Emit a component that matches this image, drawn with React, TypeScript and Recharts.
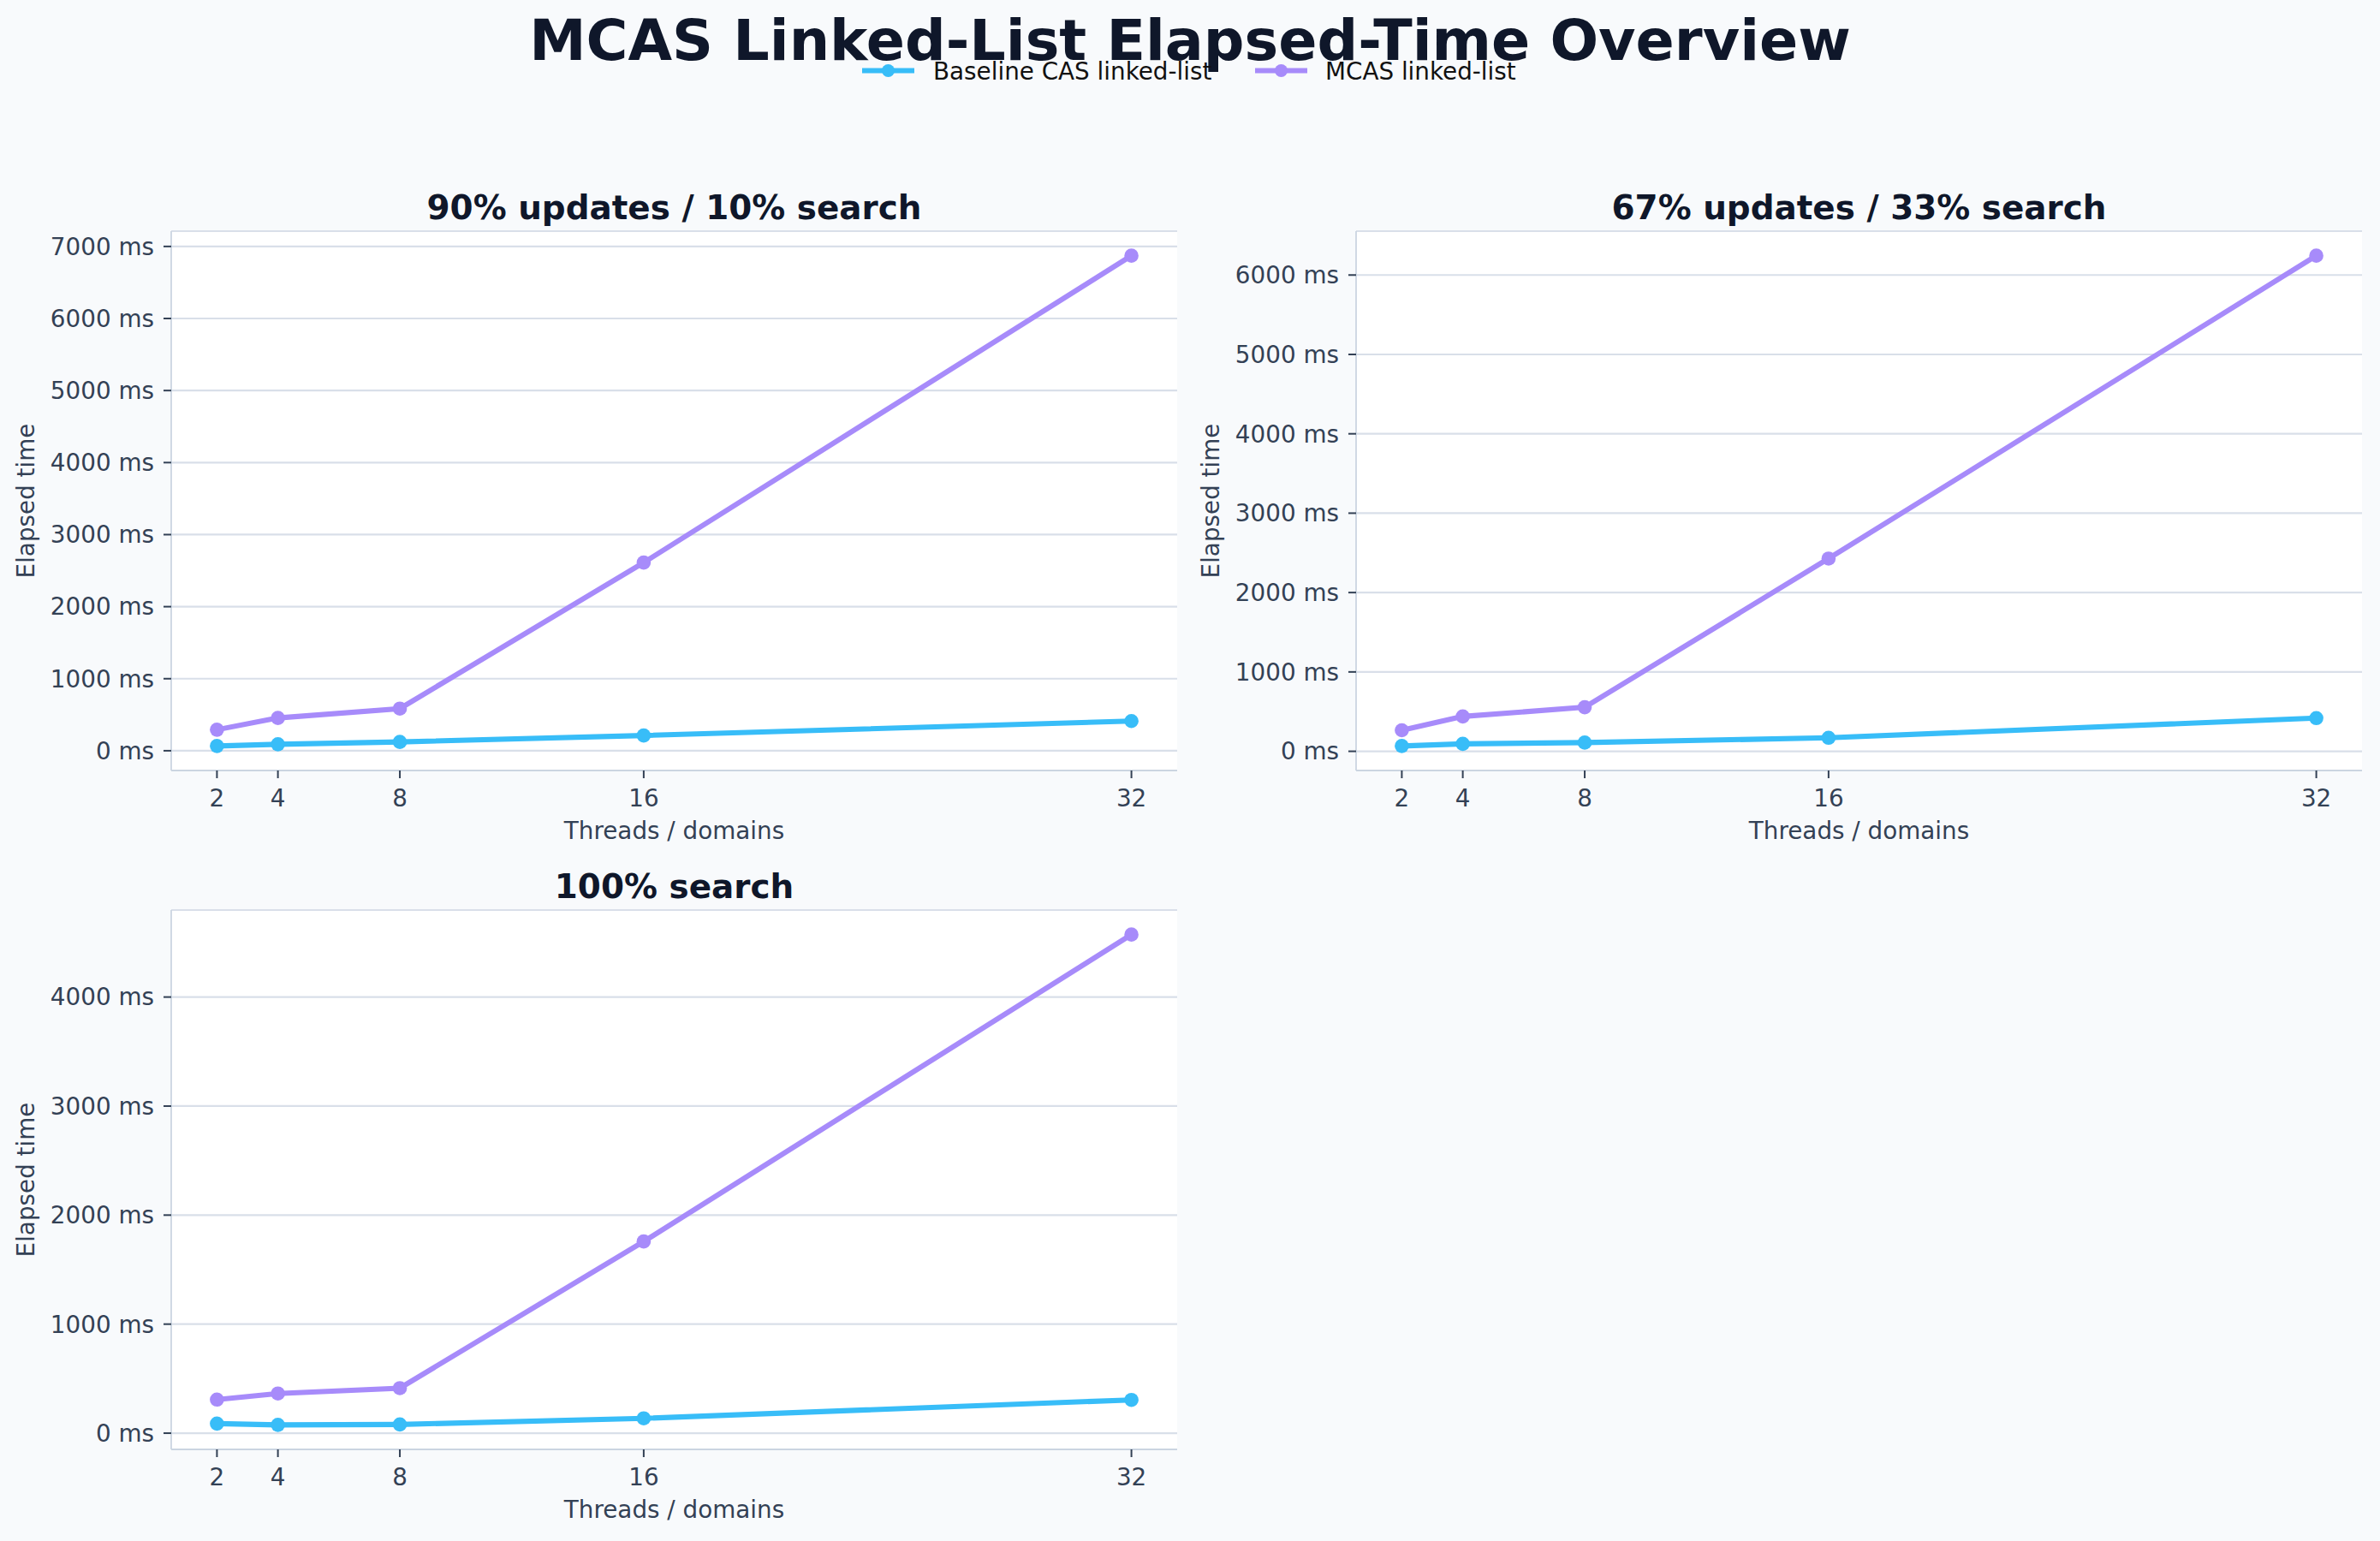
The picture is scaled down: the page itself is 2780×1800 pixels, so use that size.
import React from 'react';
import { LineChart, Line, XAxis, YAxis, CartesianGrid } from 'recharts';

const threads = [2, 4, 8, 16, 32];
const xTicks = [2, 4, 8, 16, 32];
const seriesNames = ['Baseline CAS linked-list', 'MCAS linked-list'];
const panelTitles = ['90% updates / 10% search', '67% updates / 33% search', '100% search'];

const baseline90 = [66, 90, 122, 212, 412];
const mcas90 = [292, 455, 585, 2612, 6872];
const baseline67 = [67, 94, 110, 170, 418];
const mcas67 = [265, 439, 555, 2428, 6244];
const baseline100 = [88, 76, 80, 136, 305];
const mcas100 = [308, 364, 413, 1758, 4573];

const yTicks90 = [0, 1000, 2000, 3000, 4000, 5000, 6000, 7000];
const yTicks67 = [0, 1000, 2000, 3000, 4000, 5000, 6000];
const yTicks100 = [0, 1000, 2000, 3000, 4000];

const FONT = 'DejaVu Sans';
const C_BASE = '#38bdf8';
const C_MCAS = '#a78bfa';
const C_TITLE = '#0f172a';
const C_TEXT = '#334155';
const C_SPINE = '#cbd5e1';
const C_GRID = '#d9dfe9';

const CH_W = 1400;
const CH_H = 820;
const M_TOP = 70;
const Y_W = 200;
const X_H = 120;
const PLOT_W = 1175;
const DOT_R = 8.3;

type PanelProps = {
  left: number;
  top: number;
  base: number[];
  mcas: number[];
  yTicks: number[];
};

const makeDot = (color: string) => (props: any) => {
  const { cx, cy, index } = props;
  if (cx == null || cy == null) return <g key={`d-${index}`} />;
  return <circle key={`d-${color}-${index}`} cx={cx} cy={cy} r={DOT_R} fill={color} stroke="none" />;
};

function Panel({ left, top, base, mcas, yTicks }: PanelProps) {
  const data = threads.map((t, i) => ({ threads: t, base: base[i], mcas: mcas[i] }));
  const all = [...base, ...mcas];
  const lo = Math.min(...all);
  const hi = Math.max(...all);
  const pad = (hi - lo) * 0.05;
  const rightMargin = CH_W - Y_W - PLOT_W;
  return (
    <div style={{ position: 'absolute', left, top, width: CH_W, height: CH_H }}>
      <LineChart
        width={CH_W}
        height={CH_H}
        data={data}
        margin={{ top: M_TOP, right: rightMargin, bottom: 0, left: 0 }}
      >
        <CartesianGrid vertical={false} stroke={C_GRID} strokeWidth={2.2} fill="#ffffff" fillOpacity={1} />
        <XAxis
          dataKey="threads"
          type="number"
          domain={[0.5, 33.5]}
          allowDataOverflow
          ticks={xTicks}
          interval={0}
          height={X_H}
          axisLine={{ stroke: C_SPINE, strokeWidth: 1.8 }}
          tickLine={{ stroke: C_TEXT, strokeWidth: 2 }}
          tickSize={9}
          tickMargin={13}
          tick={{ fill: C_TEXT, fontSize: 27.8, fontFamily: FONT }}
        />
        <YAxis
          type="number"
          domain={[lo - pad, hi + pad]}
          allowDataOverflow
          ticks={yTicks}
          interval={0}
          width={Y_W}
          axisLine={{ stroke: C_SPINE, strokeWidth: 1.8 }}
          tickLine={{ stroke: C_TEXT, strokeWidth: 2 }}
          tickSize={9}
          tickMargin={11}
          tickFormatter={(v: number) => `${v} ms`}
          tick={{ fill: C_TEXT, fontSize: 27.8, fontFamily: FONT }}
        />
        <Line
          type="linear"
          dataKey="base"
          name={seriesNames[0]}
          stroke={C_BASE}
          strokeWidth={6.1}
          dot={makeDot(C_BASE)}
          activeDot={false}
          isAnimationActive={false}
        />
        <Line
          type="linear"
          dataKey="mcas"
          name={seriesNames[1]}
          stroke={C_MCAS}
          strokeWidth={6.1}
          dot={makeDot(C_MCAS)}
          activeDot={false}
          isAnimationActive={false}
        />
      </LineChart>
    </div>
  );
}

const panels = [
  { left: 0, top: 200, base: baseline90, mcas: mcas90, yTicks: yTicks90, title: panelTitles[0] },
  { left: 1384, top: 200, base: baseline67, mcas: mcas67, yTicks: yTicks67, title: panelTitles[1] },
  { left: 0, top: 993, base: baseline100, mcas: mcas100, yTicks: yTicks100, title: panelTitles[2] },
];

export default function App() {
  return (
    <div
      style={{
        position: 'absolute',
        left: 0,
        top: 0,
        width: 2780,
        height: 1800,
        background: '#f8fafc',
        overflow: 'hidden',
        fontFamily: FONT,
      }}
    >
      {panels.map((p, i) => (
        <Panel key={i} left={p.left} top={p.top} base={p.base} mcas={p.mcas} yTicks={p.yTicks} />
      ))}
      <svg
        width={2780}
        height={1800}
        style={{ position: 'absolute', left: 0, top: 0, pointerEvents: 'none' }}
      >
        <text x={1390} y={70} textAnchor="middle" fontFamily={FONT} fontWeight="bold" fontSize={66.7} fill={C_TITLE}>
          MCAS Linked-List Elapsed-Time Overview
        </text>
        <g>
          <line x1={1007} y1={82.5} x2={1068} y2={82.5} stroke={C_BASE} strokeWidth={6.1} />
          <circle cx={1037.5} cy={82.5} r={7.6} fill={C_BASE} />
          <text x={1090} y={93} fontFamily={FONT} fontSize={27.8} fill="#111111">
            {seriesNames[0]}
          </text>
          <line x1={1466} y1={82.5} x2={1527} y2={82.5} stroke={C_MCAS} strokeWidth={6.1} />
          <circle cx={1496.5} cy={82.5} r={7.6} fill={C_MCAS} />
          <text x={1548} y={93} fontFamily={FONT} fontSize={27.8} fill="#111111">
            {seriesNames[1]}
          </text>
        </g>
        {panels.map((p, i) => {
          const plotLeft = p.left + Y_W;
          const plotTop = p.top + M_TOP;
          const plotH = CH_H - M_TOP - X_H;
          const cx = plotLeft + PLOT_W / 2;
          const cy = plotTop + plotH / 2;
          return (
            <g key={i}>
              <text x={cx} y={plotTop - 14} textAnchor="middle" fontFamily={FONT} fontWeight="bold" fontSize={38.9} fill={C_TITLE}>
                {p.title}
              </text>
              <text x={cx} y={plotTop + plotH + 80} textAnchor="middle" fontFamily={FONT} fontSize={27.8} fill={C_TEXT}>
                Threads / domains
              </text>
              <text
                x={plotLeft - 160}
                y={cy}
                textAnchor="middle"
                fontFamily={FONT}
                fontSize={27.8}
                fill={C_TEXT}
                transform={`rotate(-90 ${plotLeft - 160} ${cy})`}
              >
                Elapsed time
              </text>
            </g>
          );
        })}
      </svg>
    </div>
  );
}
